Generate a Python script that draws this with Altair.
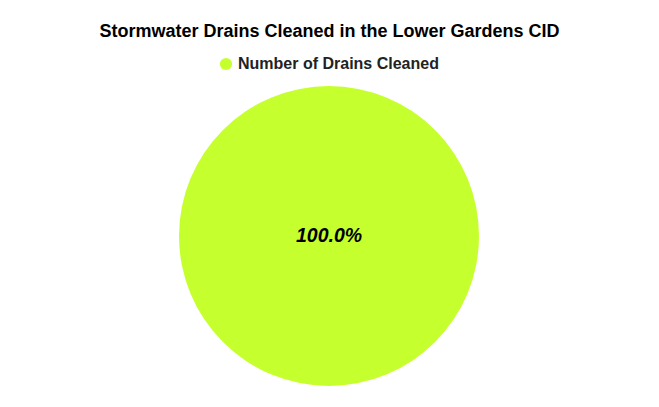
import altair as alt
import pandas as pd

categories = ["Number of Drains Cleaned"]
values = [100]
labels = ["100.0%"]

df = pd.DataFrame({"category": categories, "value": values, "label": labels})

color = "#C6FF2E"
font = "Liberation Sans"

base = alt.Chart(df).encode(
    theta=alt.Theta("value:Q", stack=True),
)

pie = base.mark_arc(outerRadius=150, stroke=None).encode(
    x=alt.value(321),
    y=alt.value(150),
    color=alt.Color(
        "category:N",
        scale=alt.Scale(domain=categories, range=[color]),
        legend=alt.Legend(
            title=None,
            orient="none",
            legendX=210,
            legendY=-30,
            symbolType="circle",
            symbolSize=150,
            labelFont=font,
            labelFontSize=16,
            labelFontWeight="bold",
            labelColor="#222222",
            labelLimit=400,
            direction="horizontal",
        ),
    ),
)

text = alt.Chart(df).mark_text(
    font=font, fontSize=19.5, fontWeight="bold", fontStyle="italic", color="#000000"
).encode(
    x=alt.value(321),
    y=alt.value(150),
    text="label:N",
)

chart = alt.layer(pie, text).properties(
    width=643,
    height=300,
    padding={"left": 0, "right": 0, "top": 78, "bottom": 13},
    autosize=alt.AutoSizeParams(type="none"),
    title=alt.TitleParams(
        "Stormwater Drains Cleaned in the Lower Gardens CID",
        font=font,
        fontSize=18,
        fontWeight="bold",
        color="#000000",
        anchor="middle",
        offset=15,
    ),
).configure_view(stroke=None)

chart.save("out.html", embed_options={"renderer": "svg", "actions": False})
